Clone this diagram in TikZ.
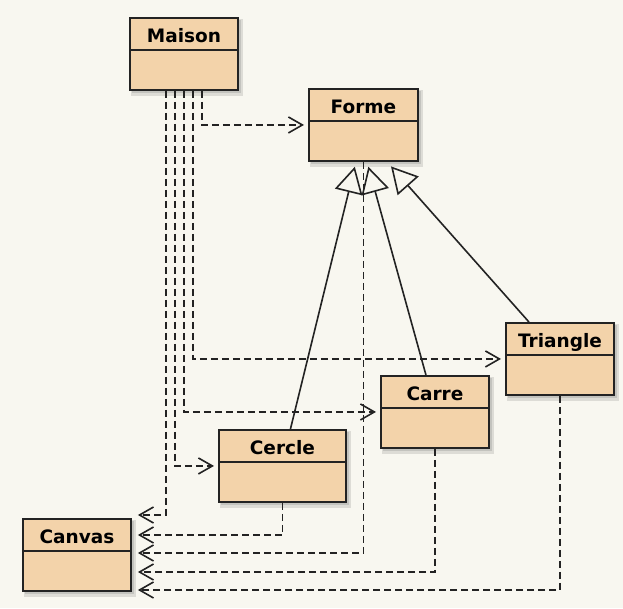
\documentclass[tikz,border=0pt]{standalone}
\usepackage{fontspec}
\setmainfont{DejaVu Sans}
\usetikzlibrary{arrows.meta,calc}
\definecolor{bgc}{RGB}{248,247,240}
\definecolor{boxc}{RGB}{243,211,170}
\definecolor{linec}{RGB}{35,35,35}
\definecolor{shadowc}{RGB}{195,195,190}
\tikzset{
  cls/.style={draw=linec, line width=1.9pt, fill=boxc, inner sep=0pt, rectangle},
  clsdiv/.style={draw=linec, line width=1.6pt},
  ttl/.style={font=\fontsize{18.5}{20}\selectfont\bfseries, text=black, inner sep=0pt},
  dep/.style={draw=linec, line width=1.6pt, dash pattern=on 7pt off 4pt,
    -{Straight Barb[length=14pt,width=16pt]}, shorten >=4pt},
  gen/.style={draw=linec, line width=1.6pt,
    -{Triangle[open, length=26pt, width=28pt]}},
}
\newcommand\umlclass[5]{%
  \fill[shadowc, opacity=0.5] (#2+2,#3+2) rectangle (#2+#4+6,#3+72+7);
  \fill[shadowc] (#2+3,#3+3) rectangle (#2+#4+4,#3+72+4);
  \node[cls, minimum width=#4, minimum height=72, anchor=north west] (#1) at (#2,#3) {};
  \draw[clsdiv] (#1.west |- 0,#3+33) -- (#1.east |- 0,#3+33);
  \node[ttl, anchor=base] (#1-t) at (#1.north |- 0,#3+25) {#5};
}
\begin{document}
\begin{tikzpicture}[x=1pt,y=-1pt]
\useasboundingbox (0,0) rectangle (623,608);
\fill[bgc] (0,0) rectangle (623,608);

\umlclass{maison}{129}{17}{108}{Maison}
\umlclass{forme}{308}{88}{109}{Forme}
\umlclass{triangle}{505}{322}{108}{Triangle}
\umlclass{carre}{380}{375}{108}{Carre}
\umlclass{cercle}{218}{429}{127}{Cercle}
\umlclass{canvas}{22}{518}{108}{Canvas}

% generalizations
\draw[gen, shorten >=5pt] ([xshift=8]cercle.north) -- (forme.south -| 356,0);
\draw[gen, shorten >=5pt] ([xshift=-9]carre.north) -- (forme.south -| 367,0);
\draw[gen, shorten >=6pt] ([xshift=-31]triangle.north) -- (forme.south -| 387,0);

% dependencies from Maison
\draw[dep] ([xshift=18]maison.south) |- (forme.west);
\draw[dep] ([xshift=9]maison.south) |- (triangle.west);
\draw[dep] (maison.south) |- (carre.west);
\draw[dep] ([xshift=-9]maison.south) |- (cercle.west);
\draw[dep, shorten >=6pt] ([xshift=-18]maison.south) |- (canvas.east |- 0,515);

% dependencies to Canvas
\draw[dep, shorten >=6pt] (cercle.south) |- (canvas.east |- 0,535);
\draw[dep, shorten >=6pt] (forme.south) |- (canvas.east |- 0,553);
\draw[dep, shorten >=6pt] (carre.south) |- (canvas.east |- 0,572);
\draw[dep, shorten >=6pt] (triangle.south) |- (canvas.east |- 0,590);
\end{tikzpicture}
\end{document}
